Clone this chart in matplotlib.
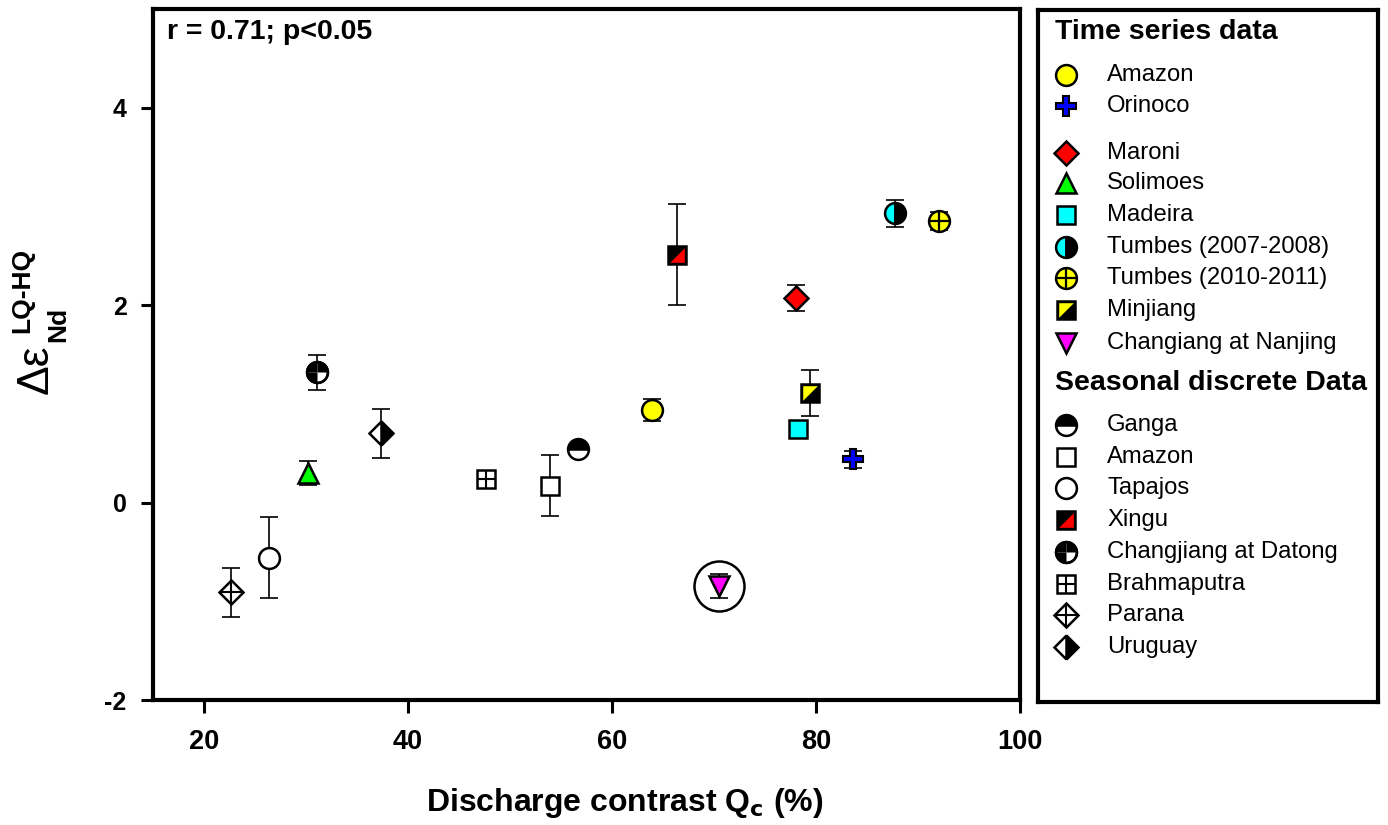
import matplotlib
matplotlib.use('Agg')
import matplotlib.pyplot as plt
from matplotlib.path import Path

plt.rcParams['font.family'] = ['Liberation Sans', 'DejaVu Sans']
plt.rcParams['axes.unicode_minus'] = False

# time series data
ts_names = ['Amazon', 'Orinoco', 'Maroni', 'Solimoes', 'Madeira',
            'Tumbes (2007-2008)', 'Tumbes (2010-2011)', 'Minjiang',
            'Changiang at Nanjing']
ts_qc = [63.9, 83.6, 78.0, 30.2, 78.2, 87.7, 92.1, 79.4, 70.5]
ts_dnd = [0.94, 0.44, 2.07, 0.30, 0.75, 2.93, 2.85, 1.11, -0.845]
ts_err = [0.11, 0.085, 0.13, 0.12, 0.0, 0.14, 0.09, 0.23, 0.12]
ts_style = ['amazon_ts', 'orinoco', 'maroni', 'solimoes', 'madeira',
            'tumbes07', 'tumbes10', 'minjiang', 'nanjing']

# seasonal discrete data
sd_names = ['Ganga', 'Amazon', 'Tapajos', 'Xingu', 'Changjiang at Datong',
            'Brahmaputra', 'Parana', 'Uruguay']
sd_qc = [56.7, 53.9, 26.4, 66.4, 31.1, 47.6, 22.6, 37.4]
sd_dnd = [0.54, 0.17, -0.56, 2.51, 1.32, 0.24, -0.91, 0.70]
sd_err = [0.0, 0.31, 0.41, 0.51, 0.18, 0.0, 0.245, 0.245]
sd_style = ['ganga', 'amazon_sd', 'tapajos', 'xingu', 'datong',
            'brahma', 'parana', 'uruguay']

x_ticks = [20, 40, 60, 80, 100]
y_ticks = [-2, 0, 2, 4]

# custom marker pieces
tri_tl = Path([(-1, -1), (-1, 1), (1, 1), (-1, -1)])
tri_br = Path([(-1, -1), (1, 1), (1, -1), (-1, -1)])
q_tl = Path.wedge(90, 180)
q_bl = Path.wedge(180, 270)
q_tr = Path.wedge(0, 90)

E = 1.8
styles = {
    'amazon_ts': [dict(marker='o', ms=15, mfc='yellow', mec='black', mew=E)],
    'orinoco': [dict(marker='P', ms=14, mfc='blue', mec='black', mew=1.5)],
    'maroni': [dict(marker='D', ms=12.5, mfc='red', mec='black', mew=E)],
    'solimoes': [dict(marker='^', ms=15, mfc='#00ff00', mec='black', mew=E)],
    'madeira': [dict(marker='s', ms=13.5, mfc='cyan', mec='black', mew=E)],
    'tumbes07': [dict(marker='o', ms=15, mfc='cyan', mec='black', mew=E,
                      fillstyle='left', markerfacecoloralt='black')],
    'tumbes10': [dict(marker='o', ms=15, mfc='yellow', mec='black', mew=E),
                 dict(marker='+', ms=15, mec='black', mew=1.6)],
    'minjiang': [dict(marker='s', ms=13.5, mfc='black', mec='black', mew=E),
                 dict(marker=tri_tl, ms=10.5, mfc='yellow', mec='none', mew=0)],
    'nanjing': [dict(marker='v', ms=15, mfc='magenta', mec='black', mew=E)],
    'ganga': [dict(marker='o', ms=15, mfc='black', mec='black', mew=E,
                   fillstyle='top', markerfacecoloralt='white')],
    'amazon_sd': [dict(marker='s', ms=13.5, mfc='white', mec='black', mew=E)],
    'tapajos': [dict(marker='o', ms=15, mfc='white', mec='black', mew=E)],
    'xingu': [dict(marker='s', ms=13.5, mfc='black', mec='black', mew=E),
              dict(marker=tri_br, ms=10.5, mfc='red', mec='none', mew=0)],
    'datong': [dict(marker='o', ms=15, mfc='white', mec='black', mew=E),
               dict(marker=q_tl, ms=15, mfc='black', mec='none', mew=0),
               dict(marker=q_bl, ms=15, mfc='black', mec='none', mew=0),
               dict(marker=q_tr, ms=15, mfc='black', mec='none', mew=0),
               dict(marker='o', ms=15, mfc='none', mec='black', mew=E)],
    'brahma': [dict(marker='s', ms=12.5, mfc='white', mec='black', mew=E),
               dict(marker='+', ms=12.5, mec='black', mew=1.5)],
    'parana': [dict(marker='D', ms=12.5, mfc='white', mec='black', mew=E),
               dict(marker='+', ms=17.5, mec='black', mew=1.5)],
    'uruguay': [dict(marker='D', ms=12.5, mfc='black', mec='black', mew=E,
                     fillstyle='right', markerfacecoloralt='white')],
}


def draw_marker(ax, x, y, key):
    for layer in styles[key]:
        ax.plot([x], [y], linestyle='none', zorder=3, **layer)


fig = plt.figure(figsize=(13.88, 8.25), dpi=100)
W, H = 1388, 825
ax = fig.add_axes([153 / W, 1 - 700 / H, (1020 - 153) / W, (700 - 9) / H])

for qc, d, e, s in zip(ts_qc + sd_qc, ts_dnd + sd_dnd, ts_err + sd_err, ts_style + sd_style):
    if e > 0:
        ax.errorbar(qc, d, yerr=e, fmt='none', ecolor='black', elinewidth=1.2,
                    capsize=6.5, capthick=1.2, zorder=2)
    draw_marker(ax, qc, d, s)

# highlight circle around Changiang at Nanjing
i = ts_style.index('nanjing')
ax.plot([ts_qc[i]], [ts_dnd[i]], linestyle='none', marker='o', ms=36,
        mfc='none', mec='black', mew=1.8, zorder=3)

ax.set_xlim(15, 100)
ax.set_ylim(-2, 5)
ax.set_xticks(x_ticks)
ax.set_yticks(y_ticks)
for sp in ax.spines.values():
    sp.set_linewidth(3)
ax.tick_params(axis='both', direction='out', length=9, width=2.2)
ax.tick_params(axis='x', labelsize=19.5, pad=12)
ax.tick_params(axis='y', labelsize=18, pad=10)
for lab in ax.get_xticklabels() + ax.get_yticklabels():
    lab.set_fontweight('bold')

ax.text(0.016, 0.985, 'r = 0.71; p<0.05', transform=ax.transAxes,
        fontsize=20.5, fontweight='bold', ha='left', va='top')

ax.set_xlabel('Discharge contrast Q$_\\mathbf{c}$ (%)', fontsize=23, fontweight='bold')
ax.xaxis.set_label_coords(0.544, -0.125)

# y label assembled from pieces
fig.text(36 / W, 1 - 369 / H, 'Δε', rotation=90, fontsize=32,
         ha='center', va='center')
fig.text(22 / W, 1 - 290 / H, 'LQ-HQ', rotation=90, fontsize=19,
         fontweight='bold', ha='center', va='center')
fig.text(58 / W, 1 - 324 / H, 'Nd', rotation=90, fontsize=19,
         fontweight='bold', ha='center', va='center')

# legend box
lax = fig.add_axes([1038 / W, 1 - 702 / H, (1378 - 1038) / W, (702 - 10) / H])
lax.set_xlim(1038, 1378)
lax.set_ylim(702, 10)
lax.set_xticks([])
lax.set_yticks([])
for sp in lax.spines.values():
    sp.set_linewidth(3)

ts_leg_y = [75, 106, 153, 183, 215, 247, 278, 310, 343]
sd_leg_y = [425, 457, 488, 520, 552, 584, 615, 647]
mark_x, text_x, head_x = 1066, 1107, 1055

lax.text(head_x, 32, 'Time series data', fontsize=20.5, fontweight='bold',
         ha='left', va='center')
lax.text(head_x, 383, 'Seasonal discrete Data', fontsize=20.5, fontweight='bold',
         ha='left', va='center')
for name, s, y in zip(ts_names + sd_names, ts_style + sd_style, ts_leg_y + sd_leg_y):
    draw_marker(lax, mark_x, y, s)
    lax.text(text_x, y, name, fontsize=17.2, ha='left', va='center')

fig.savefig('out.png', dpi=100)
